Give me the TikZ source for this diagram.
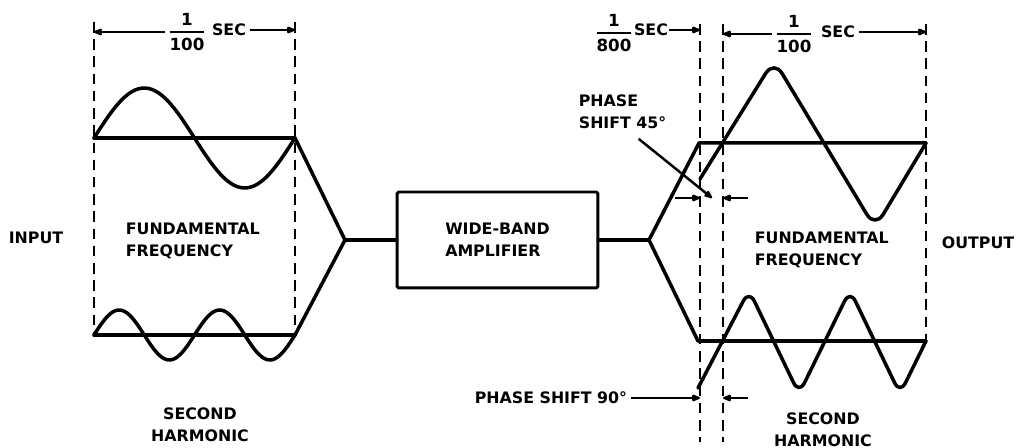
\documentclass[tikz,border=0pt]{standalone}
\usepackage{amsmath}
\usepackage{fontspec}
\setmainfont{DejaVu Sans}
\usepackage{tikz}
\usetikzlibrary{arrows.meta}

\begin{document}
\begin{tikzpicture}[x=0.02cm, y=-0.02cm, >={Latex[length=6.5pt,width=4.8pt,round]},
    font=\fontsize{9}{12.5}\selectfont\bfseries,
    wave/.style={line width=2pt, line join=round, line cap=round},
    ext/.style={line width=1.5pt, dash pattern=on 6pt off 3.8pt},
    dim/.style={line width=1.4pt},
    lbl/.style={align=left, inner sep=2pt},
    frac/.style={inner sep=1pt, font=\fontsize{9.5}{10}\selectfont\bfseries}]

    \useasboundingbox (0,0) rectangle (1018,448);

    % extension lines
    \coordinate (xa) at (94,22);
    \coordinate (xb) at (295,22);
    \coordinate (xc) at (700,24);
    \coordinate (xd) at (723,24);
    \coordinate (xe) at (926,24);
    \draw[ext] (xa) -- ++(0,313);
    \draw[ext] (xb) -- ++(0,313);
    \draw[ext] (xc) -- ++(0,418);
    \draw[ext] (xd) -- ++(0,418);
    \draw[ext] (xe) -- ++(0,317);

    % input side
    \node[lbl] (in) at (36,238) {INPUT};
    \coordinate (f1) at (94,138);
    \coordinate (f2) at (295,138);
    \coordinate (h1) at (94,335);
    \coordinate (h2) at (295,335);
    \coordinate (j1) at (345,240);
    \draw[wave] (f1) -- (f2);
    \draw[wave] plot[domain=0:201, samples=60, smooth] ({94+\x},{138-50*sin(\x/201*360)});
    \draw[wave] (h1) -- (h2);
    \draw[wave] plot[domain=0:201, samples=80, smooth] ({94+\x},{335-25*sin(\x/201*720)});
    \node[lbl, anchor=west] (fundin) at (122,241) {FUNDAMENTAL\\FREQUENCY};
    \node[lbl, align=center] (harmin) at (200,425) {SECOND\\HARMONIC};

    \node[frac] (fr1) at (187,32) {$\genfrac{}{}{1pt}{0}{\text{1}}{\text{100}}$};
    \node[lbl] (sec1) at (229,30) {SEC};
    \draw[dim,->] (fr1.west) -- (fr1.west -| xa);
    \draw[dim,->] (sec1.east) -- (sec1.east -| xb);

    % amplifier
    \node[draw, line width=1.7pt, rounded corners=1pt, minimum width=4.02cm,
        minimum height=1.92cm, align=left] (amp) at (497.5,240) {WIDE-BAND\\AMPLIFIER};
    \draw[wave] (f2) -- (j1) -- (h2);
    \draw[wave] (j1) -- (amp.west);

    % output side
    \coordinate (j2) at (649,240);
    \coordinate (f3) at (699,143);
    \coordinate (f4) at (926,143);
    \coordinate (h3) at (698,341);
    \coordinate (h4) at (926,341);
    \draw[wave] (amp.east) -- (j2);
    \draw[wave] (f4) -- (f3) -- (j2) -- (h3) -- (h4);
    \draw[wave, rounded corners=9pt] (700,179) -- (774,60) -- (875,228) -- (f4);
    \draw[wave, rounded corners=7pt] (698,388) -- (749,290) -- (799,394) -- (850,290) -- (900,394) -- (h4);
    \node[lbl, anchor=west] (fundout) at (751,250) {FUNDAMENTAL\\FREQUENCY};
    \node[lbl, align=center] (harmout) at (823,430) {SECOND\\HARMONIC};
    \node[lbl] (out) at (978,243) {OUTPUT};

    \node[frac] (fr2) at (794,34) {$\genfrac{}{}{1pt}{0}{\text{1}}{\text{100}}$};
    \node[lbl] (sec2) at (838,32) {SEC};
    \draw[dim,->] (fr2.west) -- (fr2.west -| xd);
    \draw[dim,->] (sec2.east) -- (sec2.east -| xe);

    \node[frac] (fr3) at (614,33) {$\genfrac{}{}{1pt}{0}{\text{1}}{\text{800}}$};
    \node[lbl, inner sep=0.5pt] (sec3) at (651,30) {SEC};
    \draw[dim,->] (sec3.east) -- (sec3.east -| xc);

    % phase shifts
    \node[lbl, anchor=west] (ps45) at (575,112) {PHASE\\SHIFT 45°};
    \coordinate (p45) at (712,198);
    \draw[dim,->] (ps45.south) ++(16,6) -- (p45);
    \draw[dim,<-] (xc |- p45) -- ++(-25,0);
    \draw[dim,<-] (xd |- p45) -- ++(25,0);

    \node[lbl, anchor=west] (ps90) at (471,398) {PHASE SHIFT 90°};
    \draw[dim,->] (ps90.east) -- (ps90.east -| xc);
    \draw[dim,<-] (ps90.east -| xd) -- ++(25,0);
\end{tikzpicture}
\end{document}
